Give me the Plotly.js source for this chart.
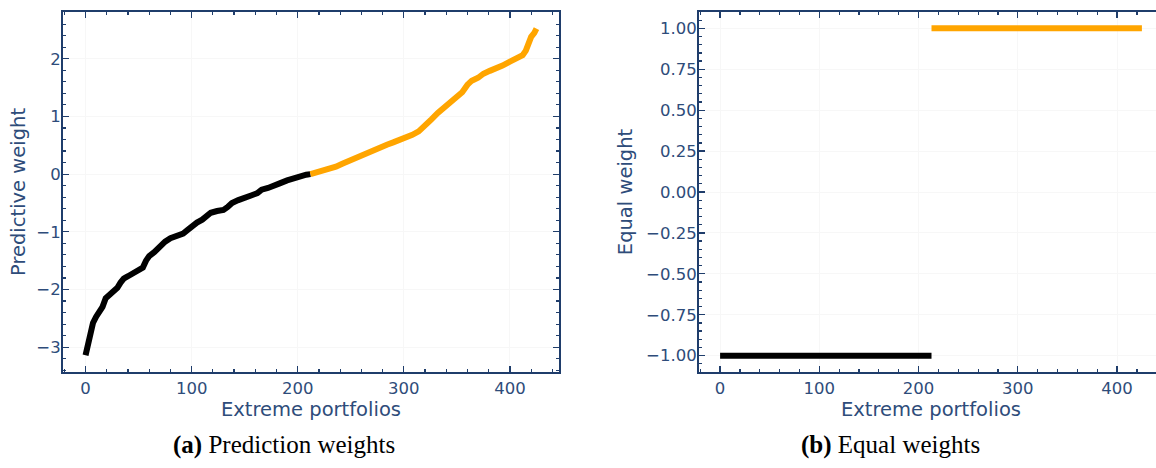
<!DOCTYPE html>
<html>
<head>
<meta charset="utf-8">
<script src="https://cdn.plot.ly/plotly-3.0.1.min.js"></script>
<style>
html,body{margin:0;padding:0;background:#fff;overflow:hidden;}
#chart{width:1200px;height:468px;}
</style>
</head>
<body>
<div id="chart"></div>
<script>
// Panel (a): predictive weights, short side (black) and long side (orange)
const shortX = [0,2,4,7,10,13,16,19,22,26,30,33,36,40,45,50,54,57,60,65,70,75,80,86,92,96,100,105,110,115,118,124,130,134,138,144,150,156,162,166,172,178,183,190,196,202,208,212];
const shortW = [-3.14,-2.95,-2.75,-2.58,-2.47,-2.40,-2.30,-2.15,-2.10,-2.06,-1.97,-1.88,-1.81,-1.77,-1.72,-1.67,-1.62,-1.50,-1.42,-1.35,-1.25,-1.17,-1.11,-1.07,-1.03,-0.97,-0.90,-0.84,-0.79,-0.72,-0.67,-0.64,-0.62,-0.57,-0.50,-0.45,-0.42,-0.37,-0.33,-0.27,-0.24,-0.21,-0.16,-0.11,-0.07,-0.04,-0.01,0.0];
const longX = [212,218,224,230,236,242,248,254,260,266,272,278,284,290,296,302,308,314,320,326,332,338,344,350,355,360,364,370,375,381,387,393,400,406,412,415,417,420,423,425];
const longW = [0.0,0.03,0.06,0.10,0.13,0.18,0.23,0.28,0.33,0.37,0.42,0.47,0.51,0.55,0.59,0.63,0.68,0.74,0.83,0.95,1.06,1.16,1.24,1.33,1.42,1.55,1.62,1.67,1.74,1.79,1.83,1.88,1.95,2.00,2.06,2.14,2.27,2.38,2.45,2.52];

// Panel (b): equal weights
const eqShortX = [0,213];
const eqShortW = [-1,-1];
const eqLongX = [213,425];
const eqLongW = [1,1];

const xTitle = "Extreme portfolios";
const yTitleA = "Predictive weight";
const yTitleB = "Equal weight";
const captionA = "<b>(a)</b> Prediction weights";
const captionB = "<b>(b)</b> Equal weights";

const navy = '#1f3d6b';
const textNavy = '#2e4c7a';
const tickFont = {family:'DejaVu Sans', size:16.5, color:textNavy};
const titleFont = {family:'DejaVu Sans', size:19.5, color:textNavy};

function axisBase(extra){
  return Object.assign({
    showline:true, linecolor:navy, linewidth:2, mirror:'allticks',
    ticks:'inside', ticklen:6, tickwidth:1.2, tickcolor:navy,
    showgrid:true, gridcolor:'#f7f7f7', gridwidth:1,
    zeroline:false, tickfont:tickFont, automargin:false
  }, extra);
}

const traces = [
  {x:shortX, y:shortW, xaxis:'x', yaxis:'y', mode:'lines', line:{color:'#000000', width:6}, hoverinfo:'skip'},
  {x:longX, y:longW, xaxis:'x', yaxis:'y', mode:'lines', line:{color:'#FFA500', width:6}, hoverinfo:'skip'},
  {x:eqShortX, y:eqShortW, xaxis:'x2', yaxis:'y2', mode:'lines', line:{color:'#000000', width:6}, hoverinfo:'skip'},
  {x:eqLongX, y:eqLongW, xaxis:'x2', yaxis:'y2', mode:'lines', line:{color:'#FFA500', width:6}, hoverinfo:'skip'}
];

const W = 1200, H = 468;
const yDom = [1-372/H, 1-12/H];

const layout = {
  width:W, height:H, showlegend:false,
  margin:{l:0,r:0,t:0,b:0},
  paper_bgcolor:'#ffffff', plot_bgcolor:'#ffffff',
  xaxis: axisBase({domain:[63/W, 559/W], range:[-21.25,446.25], dtick:100, tick0:0,
    minor:{ticks:'inside', ticklen:3, dtick:20, tick0:0, tickcolor:navy, showgrid:false},
    title:{text:xTitle, font:titleFont, standoff:4}, anchor:'y'}),
  yaxis: axisBase({domain:yDom, range:[-3.43,2.81], dtick:1, tick0:0, ticklabelstandoff:-3,
    minor:{ticks:'inside', ticklen:3, dtick:0.2, tick0:0, tickcolor:navy, showgrid:false},
    title:{text:yTitleA, font:titleFont, standoff:6}, anchor:'x'}),
  xaxis2: axisBase({domain:[699/W, 1163/W], range:[-21.25,446.25], dtick:100, tick0:0,
    minor:{ticks:'inside', ticklen:3, dtick:20, tick0:0, tickcolor:navy, showgrid:false},
    title:{text:xTitle, font:titleFont, standoff:4}, anchor:'y2'}),
  yaxis2: axisBase({domain:yDom, range:[-1.1,1.1], dtick:0.25, tick0:0, tickformat:'.2f', ticklabelstandoff:-3,
    minor:{ticks:'inside', ticklen:3, dtick:0.05, tick0:0, tickcolor:navy, showgrid:false},
    title:{text:yTitleB, font:titleFont, standoff:8}, anchor:'x2'}),
  annotations:[
    {text:captionA, xref:'paper', yref:'paper', x:284/W, y:1-445/H, xanchor:'center', yanchor:'middle', showarrow:false,
     font:{family:'Liberation Serif', size:25, color:'#000000'}},
    {text:captionB, xref:'paper', yref:'paper', x:890/W, y:1-445/H, xanchor:'center', yanchor:'middle', showarrow:false,
     font:{family:'Liberation Serif', size:25, color:'#000000'}}
  ]
};

Plotly.newPlot('chart', traces, layout, {staticPlot:true, displayModeBar:false});
</script>
</body>
</html>
